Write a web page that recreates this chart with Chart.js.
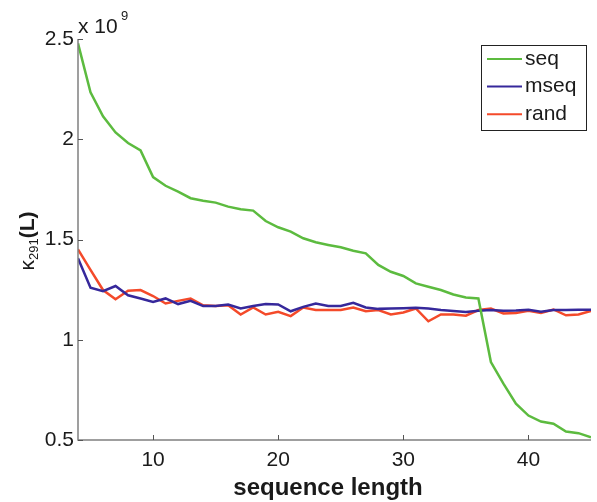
<!DOCTYPE html>
<html>
<head>
<meta charset="utf-8">
<script src="https://cdn.jsdelivr.net/npm/chart.js@4.4.1/dist/chart.umd.min.js"></script>
<style>
  html, body { margin: 0; padding: 0; background: #fff; }
  #wrap { width: 597px; height: 502px; position: relative; }
</style>
</head>
<body>
<div id="wrap"><canvas id="myChart"></canvas></div>
<script>
// sequence length (x) and kappa values in units of 1e9
const lengths = [4, 5, 6, 7, 8, 9, 10, 11, 12, 13, 14, 15, 16, 17, 18, 19, 20, 21, 22, 23, 24,
  25, 26, 27, 28, 29, 30, 31, 32, 33, 34, 35, 36, 37, 38, 39, 40, 41, 42, 43, 44, 45];

const seqValues = [2.478, 2.234, 2.114, 2.034, 1.981, 1.944, 1.811, 1.768, 1.739, 1.706, 1.693,
  1.684, 1.664, 1.651, 1.644, 1.592, 1.561, 1.539, 1.506, 1.486, 1.473, 1.461, 1.444, 1.431,
  1.373, 1.339, 1.318, 1.281, 1.264, 1.248, 1.226, 1.211, 1.206, 0.889, 0.781, 0.681, 0.622,
  0.592, 0.581, 0.542, 0.534, 0.514];

const mseqValues = [1.406, 1.259, 1.242, 1.268, 1.222, 1.206, 1.189, 1.206, 1.178, 1.194, 1.168,
  1.168, 1.176, 1.156, 1.168, 1.178, 1.176, 1.142, 1.164, 1.181, 1.168, 1.168, 1.184, 1.161,
  1.154, 1.156, 1.157, 1.159, 1.156, 1.148, 1.144, 1.139, 1.145, 1.148, 1.145, 1.146, 1.149,
  1.140, 1.148, 1.148, 1.150, 1.150];

const randValues = [1.451, 1.348, 1.248, 1.202, 1.244, 1.248, 1.218, 1.181, 1.194, 1.206, 1.172,
  1.168, 1.172, 1.126, 1.161, 1.126, 1.139, 1.118, 1.161, 1.148, 1.148, 1.148, 1.161, 1.142,
  1.148, 1.126, 1.136, 1.156, 1.092, 1.126, 1.126, 1.120, 1.148, 1.156, 1.131, 1.134, 1.144,
  1.134, 1.151, 1.122, 1.126, 1.144];

const seriesNames = ["seq", "mseq", "rand"];
const seriesColors = ["#5cbb3f", "#36289b", "#f44a2a"];
const xTicks = [10, 20, 30, 40];
const yTicks = [0.5, 1, 1.5, 2, 2.5];

const FONT = "'Liberation Sans', Arial, Helvetica, sans-serif";
const AXIS_COLOR = "#808080";

const toPoints = (vals) => vals.map((v, i) => ({ x: lengths[i], y: v }));

// inward ticks, axis labels, multiplier and boxed legend
const decorations = {
  id: "decorations",
  afterDraw(chart) {
    const { ctx, chartArea, scales } = chart;
    const { left, right, top, bottom } = chartArea;
    ctx.save();

    // axes lines
    ctx.strokeStyle = AXIS_COLOR;
    ctx.lineWidth = 1.5;
    ctx.beginPath();
    ctx.moveTo(left, top);
    ctx.lineTo(left, bottom);
    ctx.lineTo(right, bottom);
    ctx.stroke();

    // inward ticks
    ctx.strokeStyle = "#555";
    ctx.lineWidth = 1;
    ctx.beginPath();
    xTicks.forEach((t) => {
      const px = Math.round(scales.x.getPixelForValue(t)) + 0.5;
      ctx.moveTo(px, bottom);
      ctx.lineTo(px, bottom - 5);
    });
    yTicks.forEach((t) => {
      const py = Math.round(scales.y.getPixelForValue(t)) + 0.5;
      ctx.moveTo(left, py);
      ctx.lineTo(left + 5, py);
    });
    ctx.stroke();

    // x 10^9
    ctx.fillStyle = "#1a1a1a";
    ctx.textBaseline = "alphabetic";
    ctx.textAlign = "left";
    ctx.font = "21px " + FONT;
    ctx.fillText("x 10", 78, 33);
    ctx.font = "13px " + FONT;
    ctx.fillText("9", 121, 20);

    // x axis title
    ctx.font = "bold 24px " + FONT;
    ctx.textAlign = "center";
    ctx.fillText("sequence length", 328, 495);

    // y axis title: κ_291(L), rotated
    ctx.translate(34, 241);
    ctx.rotate(-Math.PI / 2);
    ctx.textAlign = "left";
    ctx.font = "21px " + FONT;
    const kW = ctx.measureText("κ").width;
    ctx.font = "13px " + FONT;
    const sW = ctx.measureText("291").width;
    ctx.font = "bold 21px " + FONT;
    const lW = ctx.measureText("(L)").width;
    let x0 = -(kW + sW + lW) / 2;
    ctx.font = "21px " + FONT;
    ctx.fillText("κ", x0, 0);
    x0 += kW;
    ctx.font = "13px " + FONT;
    ctx.fillText("291", x0, 4);
    x0 += sW;
    ctx.font = "bold 21px " + FONT;
    ctx.fillText("(L)", x0, 0);
    ctx.setTransform(1, 0, 0, 1, 0, 0);

    // legend box
    const bx = 481, by = 45, bw = 105, bh = 85;
    ctx.fillStyle = "#fff";
    ctx.fillRect(bx, by, bw, bh);
    ctx.strokeStyle = "#222";
    ctx.lineWidth = 1;
    ctx.strokeRect(bx + 0.5, by + 0.5, bw, bh);
    ctx.font = "21px " + FONT;
    ctx.textBaseline = "middle";
    ctx.textAlign = "left";
    chart.data.datasets.forEach((ds, i) => {
      const ry = 59 + i * 27.6;
      ctx.strokeStyle = ds.borderColor;
      ctx.lineWidth = 2;
      ctx.beginPath();
      ctx.moveTo(487, ry);
      ctx.lineTo(522, ry);
      ctx.stroke();
      ctx.fillStyle = "#1a1a1a";
      ctx.fillText(ds.label, 525, ry);
    });
    ctx.restore();
  },
};

const ctx = document.getElementById("myChart");
new Chart(ctx, {
  type: "line",
  data: {
    datasets: [seqValues, mseqValues, randValues].map((vals, i) => ({
      label: seriesNames[i],
      data: toPoints(vals),
      borderColor: seriesColors[i],
      backgroundColor: seriesColors[i],
      borderWidth: 2.5,
      pointRadius: 0,
      tension: 0,
    })),
  },
  options: {
    responsive: true,
    maintainAspectRatio: false,
    animation: false,
    layout: { padding: { top: 39, right: 6, left: 0, bottom: 0 } },
    plugins: {
      legend: { display: false },
      tooltip: { enabled: false },
    },
    scales: {
      x: {
        type: "linear",
        min: 4,
        max: 45,
        afterBuildTicks: (scale) => { scale.ticks = xTicks.map((v) => ({ value: v })); },
        afterFit: (scale) => { scale.height = 62; },
        grid: { display: false, drawTicks: false },
        border: { display: false },
        ticks: { color: "#1a1a1a", font: { family: FONT, size: 21 }, padding: 8, callback: (v) => String(v) },
      },
      y: {
        type: "linear",
        min: 0.5,
        max: 2.5,
        afterBuildTicks: (scale) => { scale.ticks = yTicks.map((v) => ({ value: v })); },
        afterFit: (scale) => { scale.width = 78; },
        grid: { display: false, drawTicks: false },
        border: { display: false },
        ticks: { color: "#1a1a1a", font: { family: FONT, size: 21 }, padding: 4, callback: (v) => String(v) },
      },
    },
  },
  plugins: [decorations],
});
</script>
</body>
</html>
